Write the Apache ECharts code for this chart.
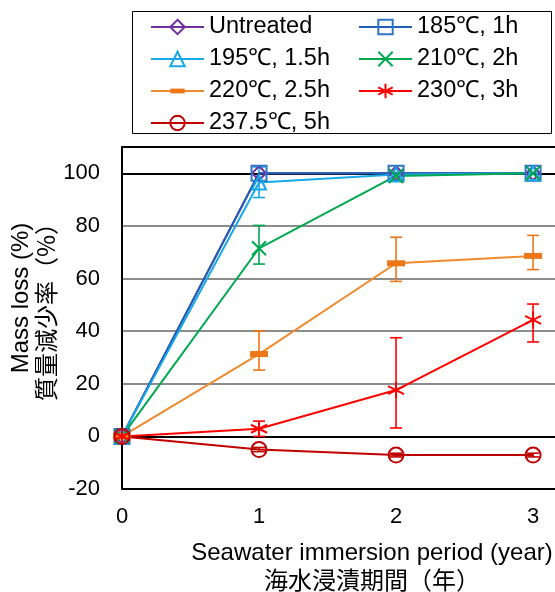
<!DOCTYPE html>
<html>
<head>
<meta charset="utf-8">
<script src="https://cdn.jsdelivr.net/npm/echarts@6/dist/echarts.min.js"></script>
<style>
  html, body { margin: 0; padding: 0; background: #fff; }
  #chart { width: 555px; height: 592px; }
</style>
</head>
<body>
<div id="chart"></div>
<script>
// seawater immersion period (year)
const years = [0, 1, 2, 3];
const yTicks = [-20, 0, 20, 40, 60, 80, 100];

// mass loss (%) per treatment
const untreated = [0, 100, 100, 100];
const t185 = [0, 100, 100, 100];
const t195 = [0, 96.5, 99.5, 100];
const t210 = [0, 71.5, 99, 100];
const t220 = [0, 31.3, 65.8, 68.6];
const t230 = [0, 2.9, 17.6, 44.3];
const t2375 = [0, -5, -7.1, -7.1];

// error bars [low, high], null = none drawn
const err195 = [null, [90.8, 102.4], null, null];
const err210 = [null, [65.5, 80.2], null, null];
const err220 = [null, [25.2, 40.1], [58.9, 75.7], [63.4, 76.4]];
const err230 = [null, [0, 5.8], [3.2, 37.5], [35.9, 50.3]];
const err2375 = [null, [-5.8, -4.2], [-7.8, -6.4], [-7.8, -6.4]];

const names = ['Untreated', '185℃, 1h', '195℃, 1.5h', '210℃, 2h', '220℃, 2.5h', '230℃, 3h', '237.5℃, 5h'];

const FONT = "'Liberation Sans', Arial, sans-serif";
const CJK = "'Noto Sans CJK JP', sans-serif";

const chart = echarts.init(document.getElementById('chart'));

const pairs = (ys) => years.map((x, i) => [x, ys[i]]);

function lineSeries(name, ys, color, lineColor, symbol, size, filled) {
  return {
    name: name,
    type: 'line',
    data: pairs(ys),
    symbol: symbol,
    symbolSize: size,
    showAllSymbol: true,
    lineStyle: { color: lineColor, width: 2 },
    itemStyle: {
      color: filled ? color : 'rgba(255,255,255,0)',
      borderColor: color,
      borderWidth: filled ? 0 : 2
    },
    emphasis: { disabled: true }
  };
}

function errSeries(name, errs, color) {
  const d = [];
  errs.forEach((e, i) => { if (e) d.push([years[i], e[0], e[1]]); });
  return {
    name: name,
    type: 'custom',
    data: d,
    encode: { x: 0, y: [1, 2] },
    silent: true,
    renderItem: function (params, api) {
      const x = api.value(0);
      const lo = api.coord([x, api.value(1)]);
      const hi = api.coord([x, api.value(2)]);
      const w = 6;
      const st = { stroke: color, lineWidth: 1.6 };
      return {
        type: 'group',
        children: [
          { type: 'line', shape: { x1: lo[0], y1: lo[1], x2: hi[0], y2: hi[1] }, style: st },
          { type: 'line', shape: { x1: lo[0] - w, y1: lo[1], x2: lo[0] + w, y2: lo[1] }, style: st },
          { type: 'line', shape: { x1: hi[0] - w, y1: hi[1], x2: hi[0] + w, y2: hi[1] }, style: st }
        ]
      };
    }
  };
}

const xMark = 'path://M0,0L10,10M10,0L0,10';
const starMark = 'path://M5,0L5,10M0.7,2.5L9.3,7.5M0.7,7.5L9.3,2.5';
// square box with a flat bar in the middle
const dashMark = 'path://M0,0M18,18M0,6L18,6L18,12L0,12Z';

const legendText = { fontFamily: FONT, fontSize: 23.5, color: '#000', lineHeight: 22 };

const option = {
  animation: false,
  backgroundColor: '#fff',
  grid: { left: 122, top: 147, right: 0, height: 342 },
  legend: [
    {
      orient: 'vertical', left: 145, top: 10, itemWidth: 53, itemHeight: 18, itemGap: 8,
      textStyle: legendText, selectedMode: false,
      data: [names[0], names[2], names[4], names[6]]
    },
    {
      orient: 'vertical', left: 353, top: 10, itemWidth: 53, itemHeight: 18, itemGap: 8,
      textStyle: legendText, selectedMode: false,
      data: [names[1], names[3], names[5]]
    }
  ],
  xAxis: [
    {
      type: 'value', min: 0, max: 3.16,
      axisLine: { show: true, lineStyle: { color: '#000', width: 2 } },
      axisTick: { show: false },
      splitLine: { show: false },
      axisLabel: {
        margin: 17, fontFamily: FONT, fontSize: 22, color: '#000',
        customValues: years
      }
    },
    {
      type: 'value', position: 'top', min: 0, max: 3.16,
      axisLine: { show: true, lineStyle: { color: '#000', width: 2 } },
      axisTick: { show: false }, axisLabel: { show: false }, splitLine: { show: false }
    }
  ],
  yAxis: {
    type: 'value', min: -20, max: 110, interval: 20,
    axisLine: { show: true, lineStyle: { color: '#000', width: 2 } },
    axisTick: { show: false },
    splitLine: {
      show: true,
      lineStyle: { width: 2, color: ['#000', '#000', '#8c8c8c', '#8c8c8c', '#8c8c8c', '#8c8c8c', '#000', '#000'] }
    },
    axisLabel: {
      margin: 22, fontFamily: FONT, fontSize: 22, color: '#000',
      formatter: v => (yTicks.includes(v) ? String(v) : '')
    }
  },
  graphic: [
    { type: 'rect', shape: { x: 132.5, y: 11.5, width: 419, height: 122 }, style: { fill: 'none', stroke: '#000', lineWidth: 1 } },
    { type: 'text', x: 372, y: 553, style: { text: 'Seawater immersion period (year)', font: '24px ' + FONT, fill: '#000', align: 'center', verticalAlign: 'middle' } },
    { type: 'text', x: 372, y: 580, style: { text: '海水浸漬期間（年）', font: '24px ' + CJK, fill: '#000', align: 'center', verticalAlign: 'middle' } },
    { type: 'text', x: 21, y: 298, rotation: Math.PI / 2, style: { text: 'Mass loss (%)', font: '24px ' + FONT, fill: '#000', align: 'center', verticalAlign: 'middle' } },
    { type: 'text', x: 46, y: 306, rotation: Math.PI / 2, style: { text: '質量減少率（%）', font: '24px ' + CJK, fill: '#000', align: 'center', verticalAlign: 'middle' } }
  ],
  series: [
    lineSeries(names[0], untreated, '#7030A0', '#7030A0', 'diamond', 14, false),
    lineSeries(names[1], t185, '#2E75C6', '#1F5FB5', 'rect', 15, false),
    lineSeries(names[2], t195, '#17A8E8', '#17A8E8', 'triangle', 14, false),
    lineSeries(names[3], t210, '#00A850', '#00A850', xMark, 14, false),
    lineSeries(names[4], t220, '#EC7618', '#EF8A2E', dashMark, 18, true),
    lineSeries(names[5], t230, '#FF0000', '#FF0000', starMark, 16, false),
    lineSeries(names[6], t2375, '#C00000', '#C00000', 'circle', 15, false),
    errSeries('e195', err195, '#17A8E8'),
    errSeries('e210', err210, '#00A850'),
    errSeries('e220', err220, '#EC7618'),
    errSeries('e230', err230, '#FF0000'),
    errSeries('e2375', err2375, '#C00000')
  ]
};

chart.setOption(option);
</script>
</body>
</html>
